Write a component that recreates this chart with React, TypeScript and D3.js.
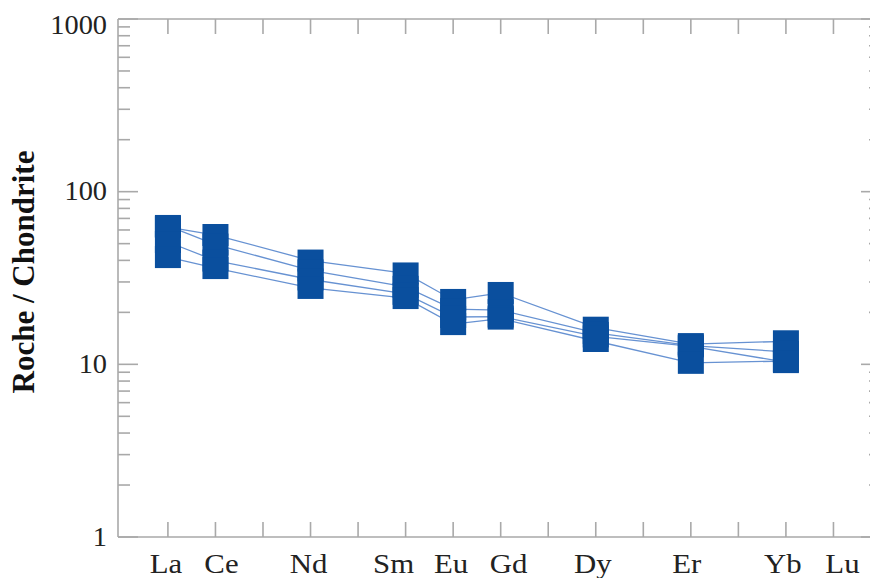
import React from "react";
import * as d3 from "d3";

// Rare earth element sequence (every one gets an axis tick)
const elements = ["La", "Ce", "Pr", "Nd", "Pm", "Sm", "Eu", "Gd", "Tb", "Dy", "Ho", "Er", "Tm", "Yb", "Lu"];
// Elements that carry a text label under the axis
const labeledElements = ["La", "Ce", "Nd", "Sm", "Eu", "Gd", "Dy", "Er", "Yb", "Lu"];
// Elements with measured values
const measured = ["La", "Ce", "Nd", "Sm", "Eu", "Gd", "Dy", "Er", "Yb"];

// Chondrite-normalised values, four samples
const sample1 = [62.4, 56.1, 39.9, 33.6, 23.6, 25.9, 16.3, 13.1, 13.6];
const sample2 = [63.3, 49.4, 35.0, 28.1, 20.9, 20.6, 15.2, 12.85, 11.8];
const sample3 = [51.1, 39.9, 31.0, 25.6, 18.8, 18.9, 14.5, 12.7, 10.3];
const sample4 = [41.8, 36.1, 27.7, 24.2, 17.1, 18.4, 13.65, 10.2, 10.45];
const samples = [sample1, sample2, sample3, sample4];

const yMajorTicks = [1, 10, 100, 1000];

// styling
const W = 870;
const H = 578;
const LEFT = 118;
const RIGHT = 881;
const TOP = 19;
const BOTTOM = 537;
const AXIS = "#a9a9a9";
const LINE = "#6792d2";
const MARK = "#0a4f9e";
const labelDx: Record<string, number> = { La: -2, Ce: 6, Nd: -2, Sm: -12, Eu: -2, Gd: 8, Dy: -3, Er: -4, Yb: -3, Lu: 9 };
const MW = 26;
const MH = 22;
const STRETCH = 1.1;

export default function App() {
  const x = d3.scaleLinear().domain([-1.05, 15]).range([LEFT, RIGHT]);
  const y = d3.scaleLog().domain([1, 1000]).range([BOTTOM, TOP]);
  const xi = (el: string) => x(elements.indexOf(el));

  const minorTicks: number[] = [];
  for (let dec = 1; dec < 1000; dec *= 10) {
    for (let k = 2; k <= 9; k++) minorTicks.push(dec * k);
  }

  const line = d3
    .line<number>()
    .x((_, i) => xi(measured[i]))
    .y((v) => y(v));

  const serif = "'Liberation Serif', 'Times New Roman', serif";

  return (
    <svg width={W} height={H} style={{ position: "absolute", left: 0, top: 0, background: "#fff" }}>
      <rect x={0} y={0} width={W} height={H} fill="#fff" />
      {/* frame */}
      <g stroke={AXIS} strokeWidth={1.6} fill="none">
        <line x1={LEFT} x2={RIGHT} y1={TOP} y2={TOP} />
        <line x1={LEFT} x2={RIGHT} y1={BOTTOM} y2={BOTTOM} />
        <line x1={LEFT} x2={LEFT} y1={TOP} y2={BOTTOM} />
        <line x1={RIGHT} x2={RIGHT} y1={TOP} y2={BOTTOM} />
        {elements.map((el) => (
          <g key={el}>
            <line x1={xi(el)} x2={xi(el)} y1={BOTTOM} y2={BOTTOM - 15} />
            <line x1={xi(el)} x2={xi(el)} y1={TOP} y2={TOP + 15} />
          </g>
        ))}
        {yMajorTicks.map((t) => (
          <g key={"M" + t}>
            <line x1={LEFT} x2={LEFT + 20} y1={y(t)} y2={y(t)} />
            <line x1={RIGHT} x2={RIGHT - 20} y1={y(t)} y2={y(t)} />
          </g>
        ))}
        {minorTicks.map((t) => (
          <g key={"m" + t}>
            <line x1={LEFT} x2={LEFT + 12} y1={y(t)} y2={y(t)} />
            <line x1={RIGHT} x2={RIGHT - 12} y1={y(t)} y2={y(t)} />
          </g>
        ))}
      </g>

      {/* y tick labels */}
      <g fontFamily={serif} fontSize={27} fill="#222" textAnchor="end">
        {yMajorTicks.map((t) => (
          <text
            key={t}
            transform={`translate(${LEFT - 11}, ${y(t) + (t === 1000 ? 6 : 0)}) scale(1.05, 1)`}
            dy="0.32em"
          >
            {t}
          </text>
        ))}
      </g>

      {/* x labels */}
      <g fontFamily={serif} fontSize={28} fill="#222" textAnchor="middle">
        {labeledElements.map((el) => (
          <text
            key={el}
            transform={`translate(${xi(el) + (labelDx[el] || 0)}, 573) scale(${STRETCH}, 1)`}
          >
            {el}
          </text>
        ))}
      </g>

      {/* y axis title */}
      <text
        transform={`translate(34, 272) rotate(-90)`}
        textAnchor="middle"
        fontFamily={serif}
        fontWeight="bold"
        fontSize={31}
        fill="#111"
      >
        Roche / Chondrite
      </text>

      {/* sample lines */}
      <g fill="none" stroke={LINE} strokeWidth={1.3}>
        {samples.map((s, i) => (
          <path key={i} d={line(s) || ""} />
        ))}
      </g>

      {/* markers */}
      <g fill={MARK}>
        {samples.map((s, si) =>
          s.map((v, i) => (
            <rect
              key={si + "-" + i}
              x={xi(measured[i]) - MW / 2}
              y={y(v) - MH / 2}
              width={MW}
              height={MH}
            />
          ))
        )}
      </g>
    </svg>
  );
}
